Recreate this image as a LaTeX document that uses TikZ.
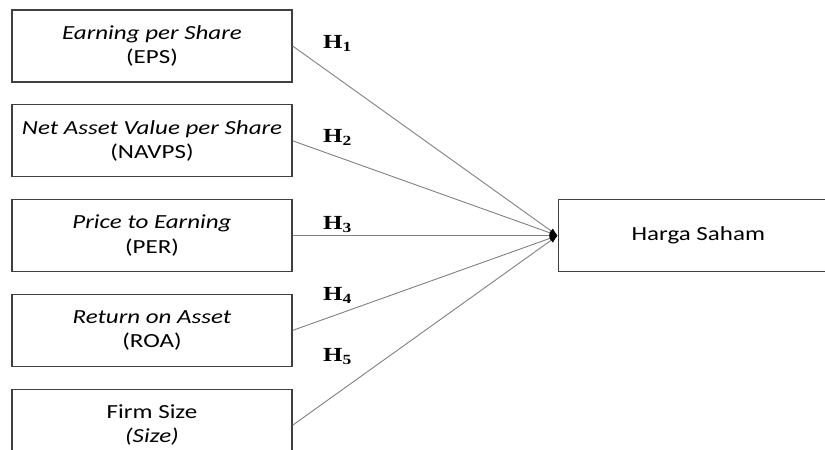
\documentclass[tikz,border=0pt]{standalone}
\usepackage{fontspec}
\setmainfont{Carlito}[FakeStretch=1.25]
\newfontfamily\hypfont{Liberation Serif}[FakeStretch=1.25]
\usetikzlibrary{positioning, arrows.meta}

\begin{document}
\begin{tikzpicture}[x=1pt, y=-1pt,
    varbox/.style={draw=black!75, line width=1.3pt, minimum width=280pt, minimum height=72pt,
        inner sep=0pt, align=center, font=\fontsize{20}{24.5}\selectfont},
    link/.style={draw=black!50, line width=0.9pt, -{Latex[length=8pt,width=6pt,black]}},
    hyplabel/.style={anchor=base west, inner sep=0pt, font=\hypfont\bfseries\fontsize{20}{24}\selectfont}]
    \useasboundingbox (0,0) rectangle (825,450);
    \clip (0,0) rectangle (825,450);
    % independent variables
    \node[varbox] (eps) at (152,46) {\textit{Earning per Share}\\(EPS)};
    \node[varbox, below=21.5pt of eps] (navps) {\textit{Net Asset Value per Share}\\(NAVPS)};
    \node[varbox, below=21.5pt of navps] (per) {\textit{Price to Earning}\\(PER)};
    \node[varbox, below=21.5pt of per] (roa) {\textit{Return on Asset}\\(ROA)};
    \node[varbox, below=21.5pt of roa] (size) {Firm Size\\\textit{(Size)}};
    % dependent variable
    \node[varbox, right=265pt of per] (harga) {Harga Saham};
    % hypotheses
    \foreach \v in {eps, navps, per, roa, size}
        \draw[link] (\v.east) -- (harga.west);
    \node[hyplabel] (h1) at (323,48) {H\textsubscript{\bfseries 1}};
    \node[hyplabel] (h2) at (323,142) {H\textsubscript{\bfseries 2}};
    \node[hyplabel] (h3) at (323,229) {H\textsubscript{\bfseries 3}};
    \node[hyplabel] (h4) at (323,300) {H\textsubscript{\bfseries 4}};
    \node[hyplabel] (h5) at (323,361) {H\textsubscript{\bfseries 5}};
\end{tikzpicture}
\end{document}
